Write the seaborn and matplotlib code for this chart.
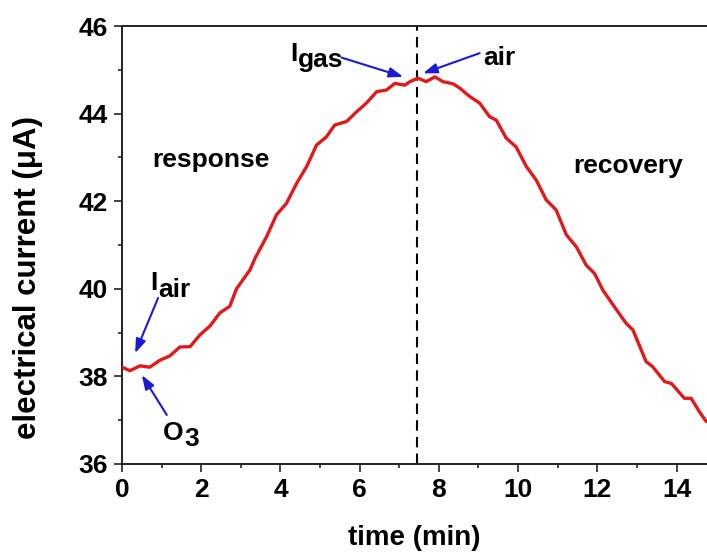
import numpy as np
import pandas as pd
import matplotlib
matplotlib.use("Agg")
import matplotlib.pyplot as plt
import seaborn as sns

# Sensor current during O3 exposure (response) and air purge (recovery)
time_min = [0.00, 0.20, 0.45, 0.70, 0.96, 1.21, 1.46, 1.72, 1.97, 2.22,
            2.47, 2.72, 2.89, 3.23, 3.36, 3.65, 3.90, 4.15, 4.41, 4.66,
            4.91, 5.16, 5.37, 5.67, 5.92, 6.17, 6.43, 6.68, 6.89, 7.14,
            7.27, 7.47, 7.68, 7.90, 8.10, 8.36, 8.53, 8.78, 9.03, 9.28,
            9.45, 9.70, 9.95, 10.21, 10.46, 10.71, 10.96, 11.22, 11.47, 11.72,
            11.93, 12.14, 12.40, 12.73, 12.90, 13.23, 13.40, 13.70, 13.87, 14.20,
            14.37, 14.58, 14.75]
current_uA = [38.21, 38.13, 38.24, 38.21, 38.37, 38.47, 38.67, 38.68, 38.95, 39.15,
              39.45, 39.60, 40.00, 40.43, 40.70, 41.19, 41.69, 41.95, 42.41, 42.79,
              43.28, 43.47, 43.74, 43.82, 44.04, 44.24, 44.50, 44.54, 44.69, 44.65,
              44.73, 44.81, 44.73, 44.84, 44.73, 44.68, 44.58, 44.39, 44.24, 43.93,
              43.85, 43.44, 43.24, 42.79, 42.48, 42.03, 41.80, 41.23, 40.96, 40.54,
              40.35, 39.97, 39.63, 39.21, 39.06, 38.34, 38.22, 37.88, 37.84, 37.50,
              37.50, 37.19, 36.97]

switch_time = 7.45          # gas switched back to air
x_ticks = [0, 2, 4, 6, 8, 10, 12, 14]
y_ticks = [36, 38, 40, 42, 44, 46]

sns.set_theme(style="ticks")
plt.rcParams["font.family"] = ["Liberation Sans", "DejaVu Sans"]
plt.rcParams["font.weight"] = "bold"
for key in ("text.color", "axes.labelcolor", "xtick.color", "ytick.color",
            "xtick.labelcolor", "ytick.labelcolor"):
    plt.rcParams[key] = "black"

BLUE = "#1a1ad2"
RED = "#e01a1c"
FS = 19

fig = plt.figure(figsize=(7.07, 5.56), dpi=100)
ax = fig.add_axes([0.1726, 0.1655, 0.8274, 0.7877])

df = pd.DataFrame({"time": time_min, "current": current_uA})
sns.lineplot(data=df, x="time", y="current", ax=ax, color=RED, lw=2.4,
             legend=False, zorder=3)

ax.axvline(switch_time, color="black", lw=1.5, ls=(0, (5, 3)), zorder=2)

ax.set_xlim(0, 14.77)
ax.set_ylim(36, 46)
ax.set_xticks(x_ticks)
ax.set_yticks(y_ticks)
ax.set_xticks(np.arange(1, 15, 2), minor=True)
ax.set_yticks(np.arange(37, 46, 2), minor=True)
ax.tick_params(which="major", direction="out", length=6, width=1.2,
               labelsize=FS, pad=4, color="#222222")
ax.tick_params(which="minor", direction="out", length=3, width=1.2,
               color="#222222")
for lab in ax.get_xticklabels() + ax.get_yticklabels():
    lab.set_fontweight("bold")

for side in ("left", "bottom", "top"):
    ax.spines[side].set_linewidth(1.4)
    ax.spines[side].set_color("#222222")
ax.spines["right"].set_visible(False)

ax.set_xlabel("time (min)", fontsize=20, fontweight="bold")
ax.set_ylabel("electrical current (\u03bcA)", fontsize=22.5, fontweight="bold")
ax.xaxis.set_label_coords(0.5, -0.14)
ax.yaxis.set_label_coords(-0.135, 0.425)

ax.text(0.76, 42.79, "response", fontsize=FS, fontweight="bold", va="baseline")
ax.text(11.40, 42.64, "recovery", fontsize=FS, fontweight="bold", va="baseline")


def sub_label(x, y, main, sub):
    t = ax.text(x, y, main, fontsize=FS, fontweight="bold", va="baseline")
    ax.annotate(sub, xy=(1, 0), xycoords=t, xytext=(0.5, -1),
                textcoords="offset points", fontsize=FS, fontweight="bold",
                va="baseline", ha="left")
    return t


arrow = dict(arrowstyle="-|>,head_length=0.7,head_width=0.25", color=BLUE,
             lw=1.5, mutation_scale=12, shrinkA=0, shrinkB=0)

sub_label(0.71, 39.97, "I", "air")
ax.annotate("", xy=(0.33, 38.53), xytext=(0.91, 39.79), arrowprops=arrow)

sub_label(1.03, 36.55, "O", "3")
ax.annotate("", xy=(0.50, 38.03), xytext=(1.13, 37.12), arrowprops=arrow)

sub_label(4.24, 45.20, "I", "gas")
ax.annotate("", xy=(7.10, 44.84), xytext=(5.54, 45.28), arrowprops=arrow)

ax.text(9.11, 45.11, "air", fontsize=FS, fontweight="bold", va="baseline")
ax.annotate("", xy=(7.60, 44.92), xytext=(9.03, 45.38), arrowprops=arrow)

fig.savefig("out.png", dpi=100, facecolor="white")
